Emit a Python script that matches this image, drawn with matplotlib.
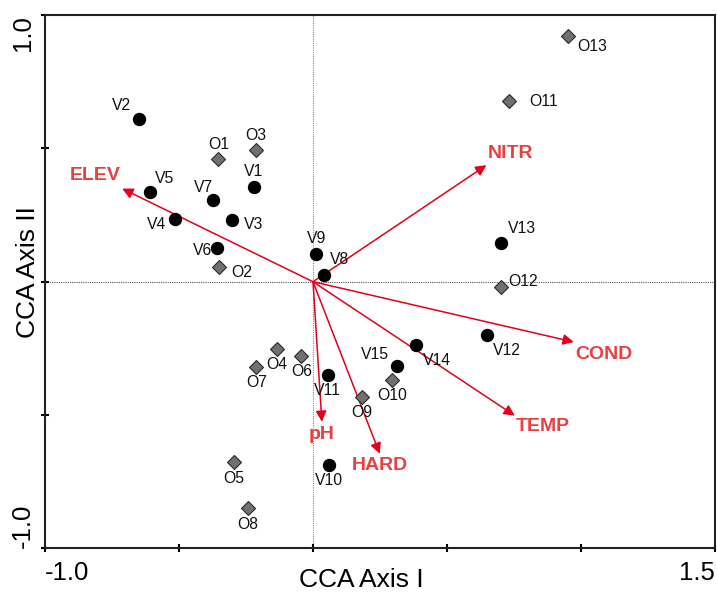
import matplotlib
matplotlib.use('Agg')
import matplotlib.pyplot as plt

plt.rcParams['font.family'] = ['Liberation Sans', 'DejaVu Sans']

# site scores (circles)
v_names = ['V1', 'V2', 'V3', 'V4', 'V5', 'V6', 'V7', 'V8', 'V9', 'V10',
           'V11', 'V12', 'V13', 'V14', 'V15']
v_x = [-0.222, -0.650, -0.304, -0.514, -0.610, -0.358, -0.375, 0.040, 0.013, 0.058,
       0.055, 0.649, 0.703, 0.386, 0.313]
v_y = [0.357, 0.610, 0.230, 0.236, 0.335, 0.125, 0.305, 0.027, 0.105, -0.686,
       -0.349, -0.201, 0.146, -0.239, -0.316]

# species scores (diamonds)
o_names = ['O1', 'O2', 'O3', 'O4', 'O5', 'O6', 'O7', 'O8', 'O9', 'O10',
           'O11', 'O12', 'O13']
o_x = [-0.353, -0.351, -0.212, -0.135, -0.294, -0.043, -0.212, -0.243, 0.183, 0.295,
       0.732, 0.703, 0.950]
o_y = [0.461, 0.054, 0.495, -0.251, -0.676, -0.279, -0.319, -0.850, -0.431, -0.367,
       0.679, -0.019, 0.922]

# environmental vectors
env_names = ['ELEV', 'NITR', 'COND', 'TEMP', 'HARD', 'pH']
env_x = [-0.712, 0.647, 0.973, 0.753, 0.249, 0.033]
env_y = [0.349, 0.437, -0.226, -0.502, -0.645, -0.525]

# label offsets in pixels (dx right, dy down)
lab_off = {
    'V1': (0, -15), 'V2': (-17, -14), 'V3': (22, 4), 'V4': (-19, 6), 'V5': (15, -14),
    'V6': (-15, 2), 'V7': (-9, -13), 'V8': (16, -15), 'V9': (0, -15), 'V10': (0, 16),
    'V11': (0, 16), 'V12': (20, 15), 'V13': (21, -14), 'V14': (21, 15), 'V15': (-22, -12),
    'O1': (0, -14), 'O2': (23, 5), 'O3': (0, -14), 'O4': (0, 16), 'O5': (0, 16),
    'O6': (0, 15), 'O7': (0, 16), 'O8': (0, 16), 'O9': (0, 16), 'O10': (0, 16),
    'O11': (34, 1), 'O12': (22, -5), 'O13': (25, 11),
}
env_off = {'ELEV': (-27, -13), 'NITR': (24, -12), 'COND': (30, 12),
           'TEMP': (28, 11), 'HARD': (0, 12), 'pH': (0, 13)}

arrow_col = '#e3001b'
text_col = '#e8403f'

fig = plt.figure(figsize=(7.17, 5.95), dpi=100)
ax = fig.add_axes([0.0628, 0.0782, 0.9344, 0.8966])

ax.axvline(0, color='#888888', lw=0.8, ls=(0, (1, 1)), zorder=1)
ax.axhline(0, color='#555555', lw=0.8, ls=(0, (1, 1)), zorder=1)

for name, x, y in zip(env_names, env_x, env_y):
    ax.annotate('', xy=(x, y), xytext=(0, 0),
                arrowprops=dict(arrowstyle='-|>', color=arrow_col, lw=1.1,
                                mutation_scale=16, shrinkA=0, shrinkB=0),
                zorder=2)
    dx, dy = env_off[name]
    ax.annotate(name, (x, y), xytext=(dx * 0.72, -dy * 0.72), textcoords='offset points',
                ha='center', va='center', color=text_col, fontsize=14,
                fontweight='bold', zorder=5)

ax.plot(o_x, o_y, 'D', ms=6.8, mfc='#707070', mec='#2a2a2a', mew=0.8, ls='none', zorder=3)
ax.plot(v_x, v_y, 'o', ms=8.6, color='black', ls='none', zorder=4)

for name, x, y in zip(v_names + o_names, v_x + o_x, v_y + o_y):
    dx, dy = lab_off[name]
    ax.annotate(name, (x, y), xytext=(dx * 0.72, -dy * 0.72), textcoords='offset points',
                ha='center', va='center', fontsize=11.3, color='#111111', zorder=5)

ax.set_xlim(-1.0, 1.5)
ax.set_ylim(-1.0, 1.0)
ax.set_xticks([-1.0, -0.5, 0, 0.5, 1.0, 1.5])
ax.set_xticklabels(['-1.0', '', '', '', '', '1.5'], fontsize=18.5)
ax.set_yticks([-1.0, -0.5, 0, 0.5, 1.0])
ax.set_yticklabels(['-1.0', '', '', '', '1.0'], fontsize=18.5, rotation=90)
xl = ax.get_xticklabels()
xl[0].set_ha('left')
xl[-1].set_ha('right')
yl = ax.get_yticklabels()
yl[0].set_va('bottom')
yl[-1].set_va('top')
ax.tick_params(direction='inout', length=6, width=1.5)
ax.tick_params(axis='x', pad=6)
ax.tick_params(axis='y', pad=4)

for s in ax.spines.values():
    s.set_linewidth(1.5)
    s.set_color('#222222')

ax.set_xlabel('CCA Axis I', fontsize=19)
ax.set_ylabel('CCA Axis II', fontsize=19)
ax.xaxis.set_label_coords(0.472, -0.036)
ax.yaxis.set_label_coords(-0.008, 0.518)

fig.savefig('out.png', dpi=100)
